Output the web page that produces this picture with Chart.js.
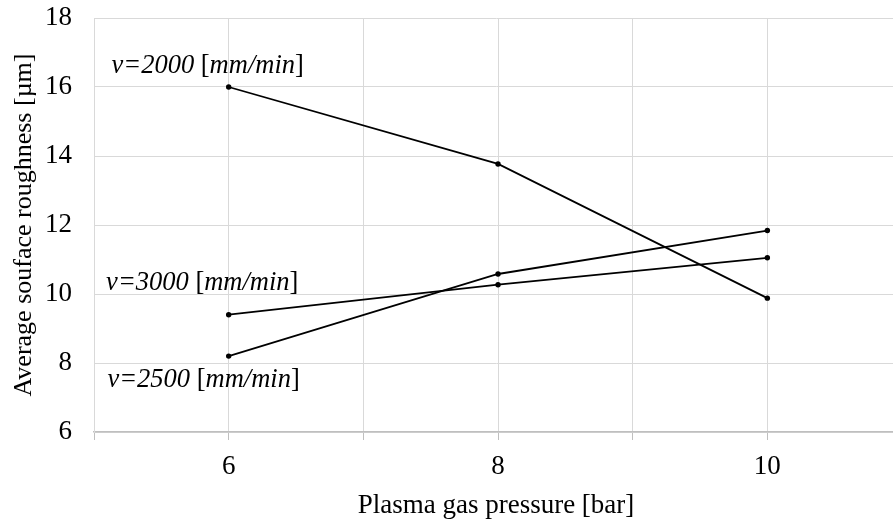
<!DOCTYPE html>
<html>
<head>
<meta charset="utf-8">
<script src="https://cdn.jsdelivr.net/npm/chart.js@4/dist/chart.umd.min.js"></script>
<style>
  html, body { margin: 0; padding: 0; background: #fff; overflow: hidden; }
  /* a bit wider than the window: the plot runs off the right edge */
  #wrap { width: 902px; height: 519px; }
</style>
</head>
<body>
<div id="wrap"><canvas id="c"></canvas></div>
<script>
// Surface roughness vs plasma gas pressure, one line per cutting speed.

const pressures = [6, 8, 10];
const speeds = ['2000', '2500', '3000'];
const rough2000 = [16.0, 13.77, 9.88];
const rough2500 = [8.2, 10.58, 11.84];
const rough3000 = [9.4, 10.27, 11.05];
const xTicks = [5, 6, 7, 8, 9, 10];
const xLabels = ['', '6', '', '8', '', '10'];
const yTicks = [6, 8, 10, 12, 14, 16, 18];

// where each speed label sits, in data units (left edge, vertical middle)
const labelAt = {
  '2000': { x: 5.13, y: 16.6 },
  '2500': { x: 5.10, y: 7.5 },
  '3000': { x: 5.09, y: 10.33 },
};

const SERIF = '"Liberation Serif", "Times New Roman", serif';
const GRID = '#d9d9d9';

const series = { '2000': rough2000, '2500': rough2500, '3000': rough3000 };

const speedLabelsPlugin = {
  id: 'speed-labels',
  afterDatasetsDraw(chart) {
    const ctx = chart.ctx;
    const sx = chart.scales.x, sy = chart.scales.y;
    ctx.save();
    ctx.fillStyle = '#000';
    ctx.textBaseline = 'middle';
    ctx.textAlign = 'left';
    for (const v of speeds) {
      const a = labelAt[v];
      let px = sx.getPixelForValue(a.x);
      const py = sy.getPixelForValue(a.y);
      // "v=2000 " and "mm/min" italic, brackets upright
      const parts = [
        ['italic', 'v=' + v + ' '],
        ['normal', '['],
        ['italic', 'mm/min'],
        ['normal', ']'],
      ];
      for (const [style, txt] of parts) {
        ctx.font = `${style} 26.5px ${SERIF}`;
        ctx.fillText(txt, px, py);
        px += ctx.measureText(txt).width;
      }
    }
    ctx.restore();
  },
};

const datasets = speeds.map(v => ({
  label: 'v=' + v + ' [mm/min]',
  data: pressures.map((p, i) => ({ x: p, y: series[v][i] })),
  borderColor: '#000',
  backgroundColor: '#000',
  borderWidth: 1.8,
  pointRadius: 2.7,
  pointBorderWidth: 0,
  pointBackgroundColor: '#000',
  tension: 0,
  fill: false,
}));

new Chart(document.getElementById('c'), {
  type: 'line',
  data: { datasets },
  options: {
    responsive: true, maintainAspectRatio: false, animation: false,
    layout: { padding: { top: 18, right: 0, left: 0, bottom: 0 } },
    scales: {
      x: {
        type: 'linear', min: 5, max: 10.97,
        afterFit: s => { s.height = 87; s.paddingLeft = 0; s.paddingRight = 0; },
        afterBuildTicks: s => { s.ticks = xTicks.map(v => ({ value: v })); },
        ticks: {
          color: '#000', padding: 11,
          font: { family: SERIF, size: 27 },
          callback: (v, i) => xLabels[i],
          maxRotation: 0, autoSkip: false,
        },
        grid: { color: GRID, lineWidth: 1, tickLength: 8, tickColor: '#bfbfbf' },
        border: { color: '#bfbfbf', width: 1.5 },
        title: {
          display: true, text: 'Plasma gas pressure [bar]', color: '#000',
          font: { family: SERIF, size: 27, lineHeight: 0.95 }, padding: { top: 0, bottom: 0 },
        },
      },
      y: {
        min: 6, max: 18,
        afterFit: s => { s.width = 94; s.paddingTop = 0; s.paddingBottom = 0; },
        afterBuildTicks: s => { s.ticks = yTicks.map(v => ({ value: v })); },
        ticks: {
          color: '#000', padding: 22,
          font: { family: SERIF, size: 27 },
        },
        grid: { color: GRID, lineWidth: 1, drawTicks: false },
        border: { color: GRID, width: 1 },
        title: {
          display: true, text: 'Average souface roughness [µm]', color: '#000',
          font: { family: SERIF, size: 26 }, padding: { top: 9, bottom: 0 },
        },
      },
    },
    plugins: {
      legend: { display: false },
      tooltip: { enabled: false },
    },
  },
  plugins: [speedLabelsPlugin],
});
</script>
</body>
</html>
